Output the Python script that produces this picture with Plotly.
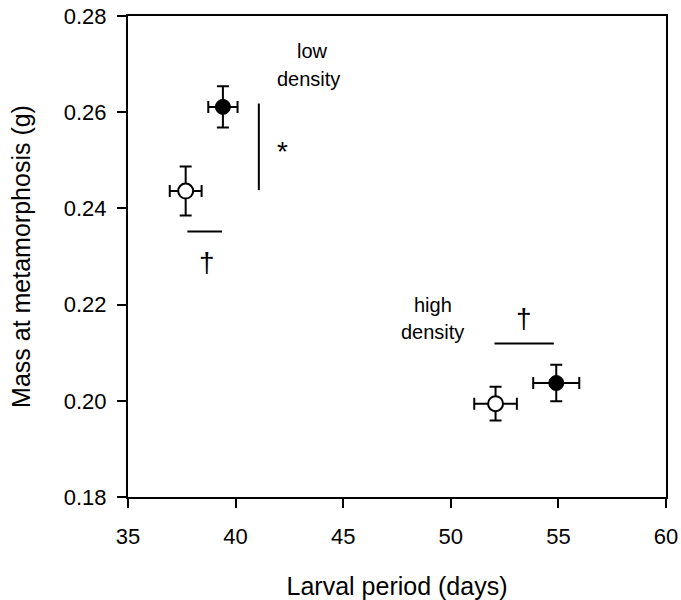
import plotly.graph_objects as go

# Data
open_x = [37.68, 52.08]
open_y = [0.2436, 0.1994]
open_xerr = [0.74, 0.99]
open_yerr = [0.0051, 0.0035]

filled_x = [39.41, 54.90]
filled_y = [0.2611, 0.2037]
filled_xerr = [0.68, 1.07]
filled_yerr = [0.0043, 0.0038]

x_ticks = [35, 40, 45, 50, 55, 60]
y_ticks = [0.18, 0.20, 0.22, 0.24, 0.26, 0.28]

# significance annotations: line segments (x0, y0, x1, y1)
sig_lines = [
    (41.08, 0.2618, 41.08, 0.2438),
    (37.76, 0.2352, 39.37, 0.2352),
    (52.03, 0.2119, 54.79, 0.2119),
]
sig_marks = [("*", 42.18, 0.2519, 28), ("†", 38.65, 0.2288, 28), ("†", 53.38, 0.2172, 28)]
labels = [("low", 43.55, 0.2727), ("density", 43.37, 0.2668),
          ("high", 49.15, 0.2200), ("density", 49.13, 0.2144)]

FONT = "Liberation Sans, Arial, Helvetica, sans-serif"

def err(vals):
    return dict(type="data", array=vals, visible=True, color="black",
                thickness=2, width=6)

fig = go.Figure()
fig.add_trace(go.Scatter(
    x=open_x, y=open_y, mode="markers",
    error_x=err(open_xerr), error_y=err(open_yerr),
    marker=dict(symbol="circle", size=15, color="white",
                line=dict(color="black", width=2)),
    showlegend=False, name="open"))
fig.add_trace(go.Scatter(
    x=filled_x, y=filled_y, mode="markers",
    error_x=err(filled_xerr), error_y=err(filled_yerr),
    marker=dict(symbol="circle", size=15, color="black",
                line=dict(color="black", width=1)),
    showlegend=False, name="filled"))

for x0, y0, x1, y1 in sig_lines:
    fig.add_shape(type="line", x0=x0, y0=y0, x1=x1, y1=y1,
                  line=dict(color="black", width=2), xref="x", yref="y")

for txt, x, y, sz in sig_marks:
    fig.add_annotation(x=x, y=y, text=txt, showarrow=False,
                       font=dict(family=FONT, size=sz, color="black"))
for txt, x, y in labels:
    fig.add_annotation(x=x, y=y, text=txt, showarrow=False,
                       font=dict(family=FONT, size=20, color="black"))

axis_common = dict(showline=True, linecolor="black", linewidth=2, mirror=True,
                   ticks="outside", ticklen=9, tickwidth=2, tickcolor="black",
                   showgrid=False, zeroline=False,
                   tickfont=dict(family=FONT, size=22, color="black"))

fig.update_xaxes(range=[35, 60], tickvals=x_ticks,
                 ticktext=[str(v) for v in x_ticks],
                 title=dict(text="Larval period (days)", standoff=29,
                            font=dict(family=FONT, size=25, color="black")),
                 ticklabelstandoff=10, **axis_common)
fig.update_yaxes(range=[0.18, 0.28], tickvals=y_ticks,
                 ticktext=[f"{v:.2f}" for v in y_ticks],
                 title=dict(text="Mass at metamorphosis (g)", standoff=26,
                            font=dict(family=FONT, size=25, color="black")),
                 ticklabelstandoff=6, **axis_common)

fig.update_layout(width=681, height=600,
                  margin=dict(l=128, r=14.5, t=16, b=103, autoexpand=False),
                  plot_bgcolor="white", paper_bgcolor="white",
                  font=dict(family=FONT, color="black"))

# remove the browser's default 8px body margin so the figure fills the window
fig.write_html("out.html",
               config={"displayModeBar": False},
               post_script="document.body.style.margin='0';"
                           "document.body.style.overflow='hidden';")
